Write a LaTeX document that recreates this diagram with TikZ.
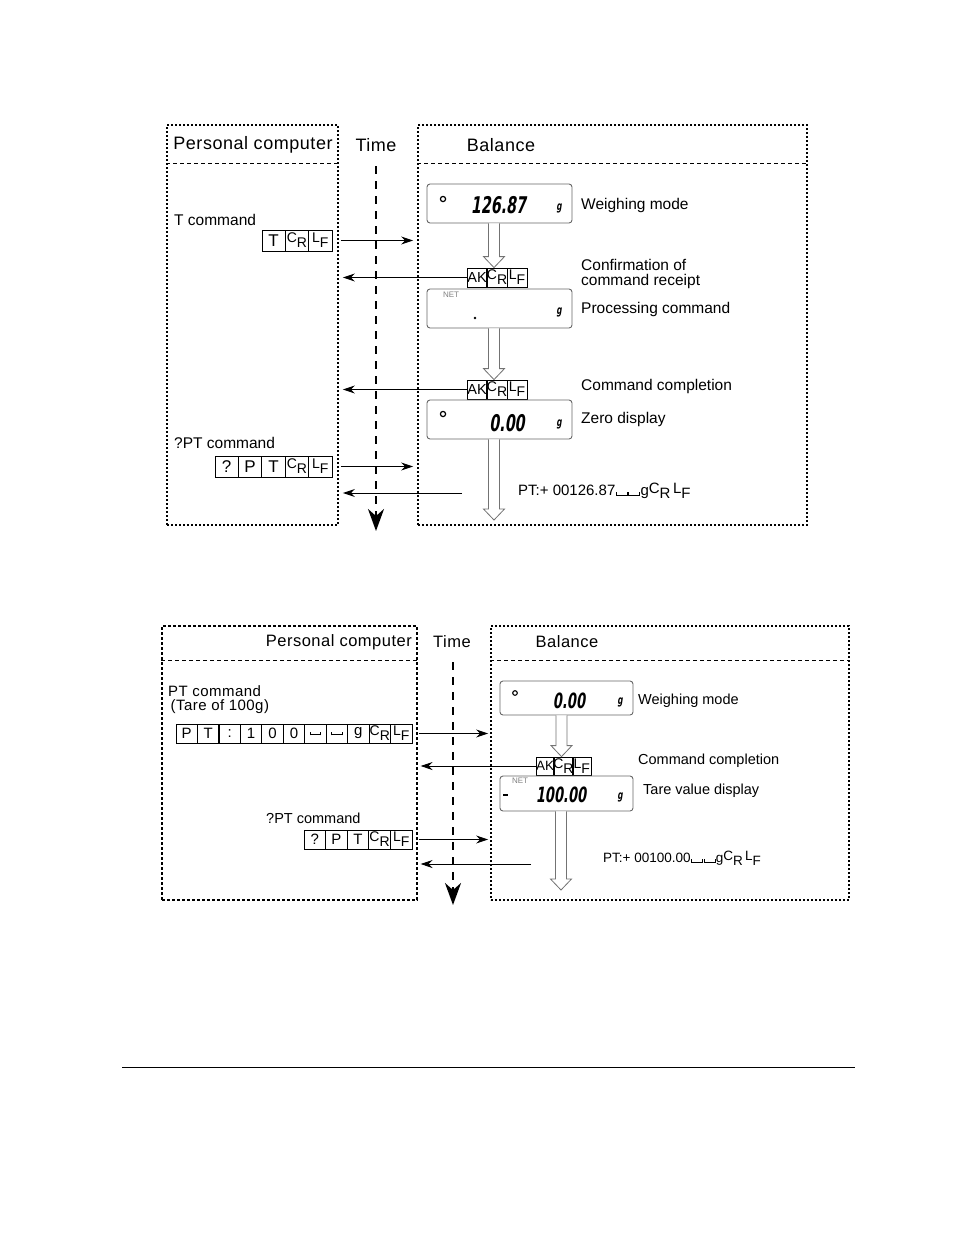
\documentclass[tikz,border=0pt]{standalone}
\usepackage{fontspec}
\setmainfont{Liberation Sans}
\newfontfamily\hdrfont[LetterSpace=3]{Liberation Sans}
\newfontfamily\segfont[FakeSlant=0.15,FakeStretch=0.62]{DejaVu Sans}
\usetikzlibrary{arrows.meta,calc}

\newcommand{\fsz}[1]{\fontsize{#1}{#1}\selectfont}
\newcommand{\crsym}{\raisebox{2.5pt}{C}\raisebox{-2.5pt}{R}}
\newcommand{\lfsym}{\raisebox{2.5pt}{L}\raisebox{-2.5pt}{F}}
\newcommand{\crcell}{{\fsz{14}\crsym}}
\newcommand{\lfcell}{{\fsz{14}\lfsym}}
\newcommand{\blanksym}{\kern0.5pt\rule{0.8pt}{3.5pt}\rule{10pt}{0.8pt}\rule{0.8pt}{3.5pt}\kern0.5pt}
% hollow arrow from #1 (top) to #2 (tip)
\newcommand{\hollowarr}[2]{%
  \draw[hollow] let \p1=(#1), \p2=(#2) in
    (\x2-5.5pt,\y1) -- (\x2-5.5pt,\y2+11pt) -- (\x2-10.5pt,\y2+11pt) -- (\x2,\y2)
    -- (\x2+10.5pt,\y2+11pt) -- (\x2+5.5pt,\y2+11pt) -- (\x2+5.5pt,\y1);}

\begin{document}
\begin{tikzpicture}[
    x=1pt, y=-1pt,
    frame/.style={draw, line width=1.8pt, dash pattern=on 2pt off 2pt, inner sep=0},
    thinframe/.style={draw, line width=1.1pt, dash pattern=on 3pt off 2pt, inner sep=0},
    hdr/.style={line width=1pt, dash pattern=on 4pt off 3pt},
    head/.style={font=\hdrfont\fsz{18}, inner sep=0},
    lbl/.style={font=\fsz{15.5}, anchor=west, inner sep=0},
    slbl/.style={font=\fsz{14.5}, anchor=west, inner sep=0},
    cell/.style={draw, line width=0.8pt, minimum width=23.4, minimum height=21,
        inner sep=0, font=\fsz{17}},
    scell/.style={draw, line width=0.8pt, minimum width=21.5, minimum height=19,
        inner sep=0, font=\fsz{15}},
    akcell/.style={draw, line width=0.8pt, minimum width=20, minimum height=19,
        inner sep=0, font=\fsz{14.5}},
    disp/.style={draw=black!60, line width=0.9pt, rounded corners=3pt, inner sep=0},
    seg/.style={font=\segfont\bfseries\fsz{23}, inner sep=0},
    gunit/.style={font=\segfont\bfseries\fsz{12}, inner sep=0},
    net/.style={font=\fsz{8}, text=black!50, inner sep=0},
    hollow/.style={draw=black!55, line width=0.8pt, fill=white},
    msg/.style={line width=1pt, -{Stealth[length=12pt, width=8pt]}},
    timeline/.style={line width=2pt, dash pattern=on 8pt off 7pt,
        -{Stealth[length=22pt, width=16pt, inset=7pt]}}
]
\useasboundingbox (0,0) rectangle (954,1235);

% ---------------- upper diagram ----------------
\node[frame, minimum width=171, minimum height=400] (pc1) at (252.5,325) {};
\node[frame, minimum width=389, minimum height=400] (bal1) at (612.5,325) {};
\draw[hdr] ([yshift=-39]pc1.north west) -- ([yshift=-39]pc1.north east);
\draw[hdr] ([yshift=-39]bal1.north west) -- ([yshift=-39]bal1.north east);

\node[head] (pch1) at (253,145) {Personal computer};
\node[head] (time1) at (376,145) {Time};
\node[head] (balh1) at (501,145) {Balance};

\coordinate (t1a) at (376,166);
\coordinate (t1b) at (376,531);
\draw[timeline] (t1a) -- (t1b);

% commands from the computer
\node[lbl] (tcmd) at (174,220) {T command};
\foreach \t [count=\i] in {T,\crcell,\lfcell}
    \node[cell] (tc\i) at (262+23.33*\i-11.67,240.5) {\t};
\draw[msg, shorten <=2pt, shorten >=4pt] (pc1.east |- tc3) -- (bal1.west |- tc3);

\node[lbl] (qcmd1) at (174,443) {?PT command};
\foreach \t [count=\i] in {?,P,T,\crcell,\lfcell}
    \node[cell] (qa\i) at (215+23.4*\i-11.7,466.5) {\t};
\draw[msg, shorten <=2pt, shorten >=4pt] (pc1.east |- qa5) -- (bal1.west |- qa5);

% balance displays
\node[disp, minimum width=145, minimum height=39] (d1) at (499.5,203.5) {};
\draw[line width=1.2pt] (443,199) circle (2.6pt);
\node[seg] (d1v) at (498.5,205) {126.87};
\node[gunit] (d1g) at (559,208) {g};
\node[lbl] (w1) at (581,205) {Weighing mode};

\foreach \t [count=\i] in {AK,\crcell,\lfcell}
    \node[akcell] (ka\i) at (467+20*\i-10,277.5) {\t};
\hollowarr{d1.south -| ka2}{[xshift=-3]ka2.north}
\node[lbl, align=left] (conf) at (581,274) {Confirmation of\\[-0.5pt]command receipt};
\draw[msg, shorten >=4pt] (ka1.west) -- (pc1.east |- ka1);

\node[disp, minimum width=145, minimum height=39] (d2) at (499.5,308.5) {};
\node[net] (d2n) at (451,295) {NET};
\fill (475,318) circle (1.4pt);
\node[gunit] (d2g) at (559,312) {g};
\node[lbl] (proc) at (581,309) {Processing command};

\foreach \t [count=\i] in {AK,\crcell,\lfcell}
    \node[akcell] (kb\i) at (467+20*\i-10,389.5) {\t};
\hollowarr{d2.south -| kb2}{[xshift=-3]kb2.north}
\node[lbl] (comp1) at (581,386) {Command completion};
\draw[msg, shorten >=4pt] (kb1.west) -- (pc1.east |- kb1);

\node[disp, minimum width=145, minimum height=39] (d3) at (499.5,419.5) {};
\draw[line width=1.2pt] (443,414) circle (2.6pt);
\node[seg] (d3v) at (507,423) {0.00};
\node[gunit] (d3g) at (559,424) {g};
\node[lbl] (zero) at (581,419) {Zero display};

\coordinate (e1) at (494,520);
\hollowarr{d3.south -| e1}{e1}
\node[lbl, font=\fsz{15}] (rep1) at (518,491) {PT:+ 00126.87\blanksym\blanksym g\crsym\,\lfsym};
\coordinate (r1) at (462,493);
\draw[msg, shorten >=4pt] (r1) -- (pc1.east |- r1);

% ---------------- lower diagram ----------------
\node[thinframe, minimum width=255, minimum height=274] (pc2) at (289.5,763) {};
\node[frame, minimum width=358, minimum height=274] (bal2) at (670,763) {};
\draw[hdr] ([yshift=-35]pc2.north west) -- ([yshift=-35]pc2.north east);
\draw[hdr] ([yshift=-35]bal2.north west) -- ([yshift=-35]bal2.north east);

\node[head, font=\hdrfont\fsz{16.5}, anchor=east] (pch2) at (412,642) {Personal computer};
\node[head, font=\hdrfont\fsz{16.5}] (time2) at (452,642) {Time};
\node[head, font=\hdrfont\fsz{16.5}] (balh2) at (567,642) {Balance};

\coordinate (t2a) at (453,662);
\coordinate (t2b) at (453,905);
\draw[timeline] (t2a) -- (t2b);

\node[slbl, align=left, font=\hdrfont\fsz{15}] (ptcmd) at (168,699.5) {PT command\\[-1pt]\,(Tare of 100g)};
\foreach \t [count=\i] in {P,T,:,1,0,0,\blanksym,\blanksym,g,\crcell,\lfcell}
    \node[scell] (pb\i) at (176+21.45*\i-10.73,733.5) {\t};
\draw[msg, shorten <=1pt, shorten >=2pt] (pc2.east |- pb11) -- (bal2.west |- pb11);

\node[slbl] (qcmd2) at (266,818) {?PT command};
\foreach \t [count=\i] in {?,P,T,\crcell,\lfcell}
    \node[scell] (qb\i) at (304+21.6*\i-10.8,839.5) {\t};
\draw[msg, shorten <=1pt, shorten >=2pt] (pc2.east |- qb5) -- (bal2.west |- qb5);

\node[disp, minimum width=133, minimum height=34] (d4) at (566.5,698) {};
\draw[line width=1.1pt] (515,693) circle (2.3pt);
\node[seg, font=\segfont\bfseries\fsz{21}] (d4v) at (569,701) {0.00};
\node[gunit] (d4g) at (620,702) {g};
\node[slbl] (w2) at (638,701) {Weighing mode};

\foreach \t [count=\i] in {AK,\crcell,\lfcell}
    \node[akcell, minimum width=18.33, minimum height=18, font=\fsz{13.5}] (kc\i) at (536+18.33*\i-9.17,766) {\t};
\hollowarr{d4.south -| kc2}{[xshift=-2]kc2.north}
\node[slbl] (comp2) at (638,761) {Command completion};
\draw[msg, shorten >=3pt] (kc1.west) -- (pc2.east |- kc1);

\node[disp, minimum width=133, minimum height=35] (d5) at (566.5,793.5) {};
\node[net] (d5n) at (520,781) {NET};
\draw[line width=1.3pt] (503,795) -- (508,795);
\node[seg, font=\segfont\bfseries\fsz{21}] (d5v) at (561,795) {100.00};
\node[gunit] (d5g) at (620,797) {g};
\node[slbl] (tare) at (643,791) {Tare value display};

\coordinate (e2) at (561,890);
\hollowarr{d5.south -| e2}{e2}
\node[slbl, font=\fsz{13.5}] (rep2) at (603,858) {PT:+ 00100.00\blanksym\blanksym g\crsym\,\lfsym};
\coordinate (r2) at (531,864);
\draw[msg, shorten >=3pt] (r2) -- (pc2.east |- r2);

% page rule
\draw[line width=0.8pt] (122,1067) -- (855,1067);
\end{tikzpicture}
\end{document}
